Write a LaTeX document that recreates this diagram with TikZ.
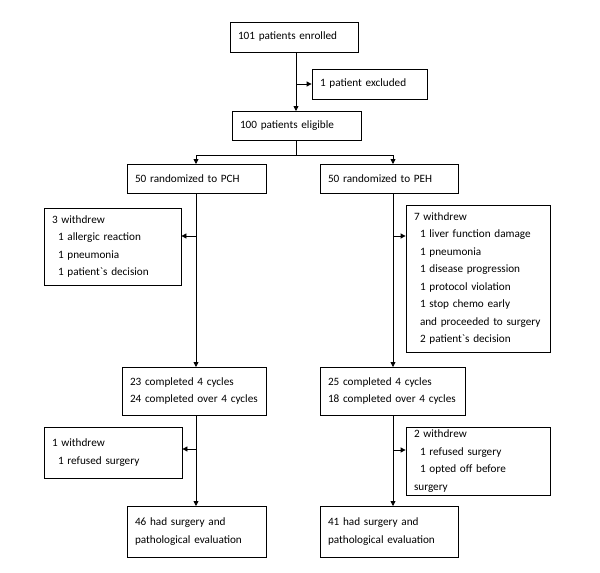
\documentclass[tikz,border=0pt]{standalone}
\usepackage{fontspec}
\setmainfont{Carlito}
\usetikzlibrary{arrows.meta}
\begin{document}
\begin{tikzpicture}[x=1pt,y=-1pt,
  box/.style={draw,line width=0.8pt,rectangle,inner xsep=8pt,inner ysep=3pt,align=left,font=\fontsize{11.2}{17.5}\selectfont},
  ar/.style={line width=0.8pt,-{Triangle[length=5pt,width=5pt]}},
  ln/.style={line width=0.8pt}]
\useasboundingbox (0,0) rectangle (600,573);
\newcommand\bxx[6]{\node[box,minimum width=#4-#2,minimum height=#5-#3,text width=#4-#2-16] (#1) at ({(#2+#4)/2},{(#3+#5)/2}) {#6};}
\def\ind{\hspace*{6pt}}
\def\bq{\textasciigrave}
\bxx{enr}{230}{22}{358}{52}{101 patients enrolled}
\bxx{exc}{312}{69}{427}{99}{1 patient excluded}
\bxx{eli}{232}{111}{361}{140}{100 patients eligible}
\bxx{pch}{127}{164}{266}{193}{50 randomized to PCH}
\bxx{peh}{320}{164}{458}{193}{50 randomized to PEH}
\bxx{wa}{44}{208}{181}{285}{3 withdrew\\\ind 1 allergic reaction\\\ind 1 pneumonia\\\ind 1 patient\bq s decision}
\bxx{wb}{406}{205}{550}{352}{7 withdrew\\\ind 1 liver function damage\\\ind 1 pneumonia\\\ind 1 disease progression\\\ind 1 protocol violation\\\ind 1 stop chemo early\\\ind and proceeded to surgery\\\ind 2 patient\bq s decision}
\bxx{ca}{122}{367}{266}{415}{23 completed 4 cycles\\24 completed over 4 cycles}
\bxx{cb}{320}{367}{465}{415}{25 completed 4 cycles\\18 completed over 4 cycles}
\bxx{xa}{44}{427}{182}{478}{1 withdrew\\\ind 1 refused surgery}
\bxx{xb}{406}{427}{550}{495}{2 withdrew\\\ind 1 refused surgery\\\ind 1 opted off before surgery}
\bxx{sa}{127}{506}{266}{557}{46 had surgery and\\pathological evaluation}
\bxx{sb}{320}{506}{458}{557}{41 had surgery and\\pathological evaluation}
% main stem
\draw[ar] (296,52) -- (296,111);
\coordinate (e1) at (296,84);
\draw[ar] (e1) -- (exc.west |- e1);
\draw[ln] (296,140) -- (296,155);
\coordinate (br) at (296,155);
\draw[ar] (br) -- (196,155) -- (196,164);
\draw[ar] (br) -- (393,155) -- (393,164);
% left branch
\draw[ar] (196,193) -- (196,367);
\coordinate (l1) at (196,236);
\draw[ar] (l1) -- (wa.east |- l1);
\draw[ar] (196,415) -- (196,506);
\coordinate (l2) at (196,449);
\draw[ar] (l2) -- (xa.east |- l2);
% right branch
\draw[ar] (393,193) -- (393,367);
\coordinate (r1) at (393,236);
\draw[ar] (r1) -- (wb.west |- r1);
\draw[ar] (393,415) -- (393,506);
\coordinate (r2) at (393,450);
\draw[ar] (r2) -- (xb.west |- r2);
\end{tikzpicture}
\end{document}
